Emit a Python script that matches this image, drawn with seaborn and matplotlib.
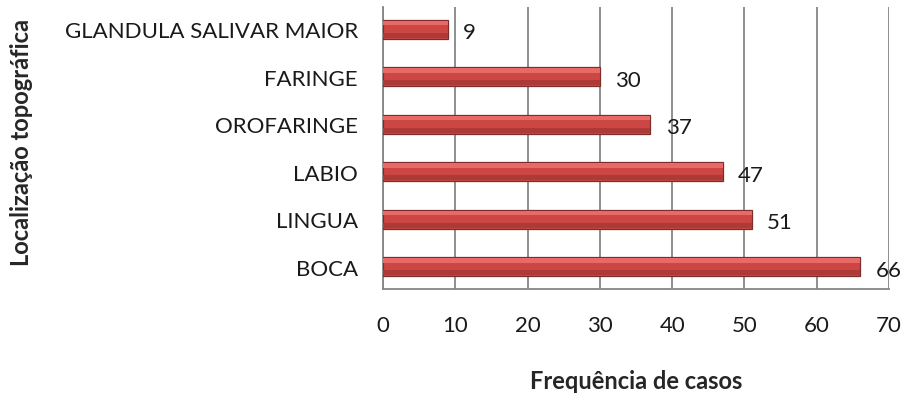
import matplotlib
matplotlib.use("Agg")
import matplotlib.pyplot as plt
import seaborn as sns
import pandas as pd

# data (top to bottom)
locais = ["GLANDULA SALIVAR MAIOR", "FARINGE", "OROFARINGE", "LABIO", "LINGUA", "BOCA"]
casos = [9, 30, 37, 47, 51, 66]
x_ticks = [0, 10, 20, 30, 40, 50, 60, 70]

df = pd.DataFrame({"local": locais, "casos": casos})

sns.set_style("white")
plt.rcParams["font.family"] = ["Lato", "DejaVu Sans"]

fig = plt.figure(figsize=(9.08, 4.02), dpi=100)
ax = fig.add_axes([383 / 908, 112 / 402, 506 / 908, 282 / 402])

sns.barplot(data=df, x="casos", y="local", orient="h", order=locais,
            color="#CC4744", width=0.4, edgecolor="#7E2B29", linewidth=0.9,
            saturation=1, ax=ax, zorder=3)

# simple bevel look: light band on top, darker band at the bottom
for p in list(ax.patches):
    y0, h, w = p.get_y(), p.get_height(), p.get_width()
    ax.barh(y0 + h * 0.17, w, height=h * 0.22, left=0, color="#E86A67",
            linewidth=0, zorder=4)
    ax.barh(y0 + h * 0.82, w, height=h * 0.26, left=0, color="#AE3A38",
            linewidth=0, zorder=4)

for i, v in enumerate(casos):
    ax.text(v + 2.1, i + 0.06, str(v), va="center", ha="left", fontsize=16,
            color="#1a1a1a")

ax.set_xlim(0, 70)
ax.set_xticks(x_ticks)
ax.grid(axis="x", color="#868686", linewidth=1.3, zorder=0)
ax.grid(axis="y", visible=False)
for s in ["top", "right"]:
    ax.spines[s].set_visible(False)
for s in ["left", "bottom"]:
    ax.spines[s].set_color("#868686")
    ax.spines[s].set_linewidth(1.3)

ax.tick_params(axis="x", direction="out", length=5, width=1.3, color="#868686",
               pad=14, labelsize=16, labelcolor="#1a1a1a")
ax.tick_params(axis="y", length=0, pad=18, labelsize=16, labelcolor="#1a1a1a")

ax.set_xlabel("Frequência de casos", fontsize=17, fontweight="bold", labelpad=24)
ax.set_ylabel("")
fig.text(22 / 908, 1 - 142 / 402, "Localização topográfica",
         rotation=90, ha="center", va="center", fontsize=17, fontweight="bold")

fig.savefig("out.png", dpi=100)
